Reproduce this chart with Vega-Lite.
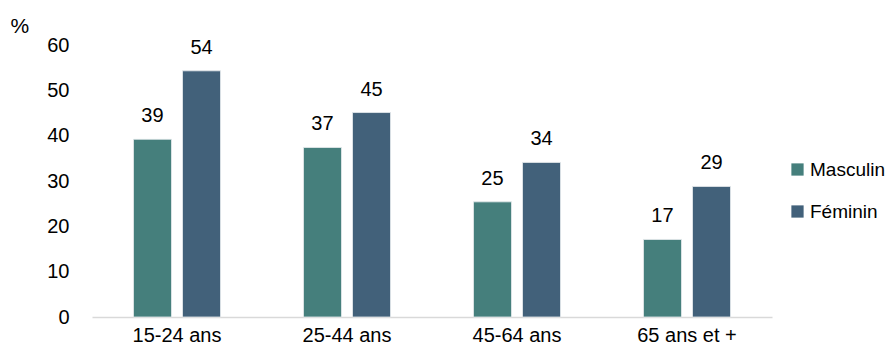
{
  "$schema": "https://vega.github.io/schema/vega-lite/v6.json",
  "width": 680,
  "height": 272,
  "autosize": "none",
  "padding": {"left": 92, "top": 45, "right": 116, "bottom": 39},
  "background": "white",
  "config": {
    "view": {"stroke": null},
    "font": "Liberation Sans",
    "text": {"font": "Liberation Sans"}
  },
  "data": {
    "values": [
      {"age": "15-24 ans", "sexe": "Masculin", "valeur": 39.2},
      {"age": "15-24 ans", "sexe": "Féminin", "valeur": 54.3},
      {"age": "25-44 ans", "sexe": "Masculin", "valeur": 37.4},
      {"age": "25-44 ans", "sexe": "Féminin", "valeur": 45.1},
      {"age": "45-64 ans", "sexe": "Masculin", "valeur": 25.4},
      {"age": "45-64 ans", "sexe": "Féminin", "valeur": 34.1},
      {"age": "65 ans et +", "sexe": "Masculin", "valeur": 17.1},
      {"age": "65 ans et +", "sexe": "Féminin", "valeur": 28.8}
    ]
  },
  "encoding": {
    "x": {
      "field": "age", "type": "nominal", "sort": null,
      "scale": {"paddingInner": 0.488, "paddingOuter": 0.244},
      "axis": {
        "title": null, "labelAngle": 0, "ticks": false,
        "domainColor": "#D9D9D9", "domainWidth": 1.5,
        "labelFontSize": 20, "labelColor": "#000000", "labelPadding": 8,
        "labelFont": "Liberation Sans"
      }
    },
    "xOffset": {
      "field": "sexe", "type": "nominal", "sort": ["Masculin", "Féminin"],
      "scale": {"paddingInner": 0.2245, "paddingOuter": 0}
    },
    "y": {
      "field": "valeur", "type": "quantitative",
      "scale": {"domain": [0, 60], "nice": false},
      "axis": {
        "values": [0, 10, 20, 30, 40, 50, 60],
        "grid": false, "domain": false, "ticks": false,
        "labelFontSize": 20, "labelColor": "#000000", "labelPadding": 23,
        "labelFont": "Liberation Sans",
        "title": "%", "titleAngle": 0, "titleFontSize": 21, "titleFontWeight": "normal",
        "titleColor": "#000000", "titleX": -82, "titleY": -9, "titleAlign": "left",
        "titleFont": "Liberation Sans"
      }
    }
  },
  "layer": [
    {
      "mark": {"type": "bar", "stroke": "#E8ECEF", "strokeWidth": 0.8},
      "encoding": {
        "color": {
          "field": "sexe", "type": "nominal",
          "sort": ["Masculin", "Féminin"],
          "scale": {"domain": ["Masculin", "Féminin"], "range": ["#457F7C", "#42617A"]},
          "legend": {
            "title": null, "orient": "none", "legendX": 696, "legendY": 115,
            "symbolType": "square", "symbolSize": 150, "symbolStrokeWidth": 0,
            "labelFontSize": 19, "labelColor": "#000000", "labelFont": "Liberation Sans",
            "rowPadding": 22, "labelOffset": 3
          }
        }
      }
    },
    {
      "mark": {"type": "text", "baseline": "bottom", "dy": -13, "fontSize": 20, "color": "#000000"},
      "encoding": {
        "text": {"field": "valeur", "type": "quantitative", "format": ".0f"}
      }
    }
  ]
}
